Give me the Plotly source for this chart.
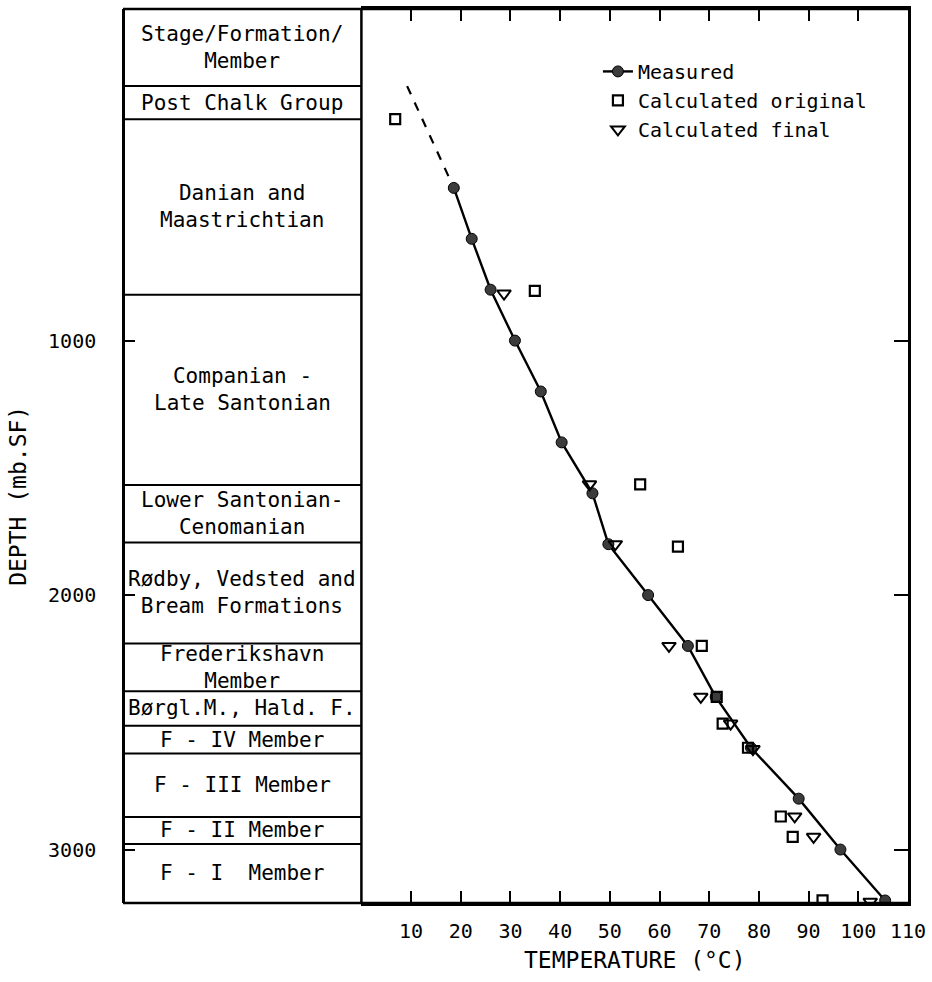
import plotly.graph_objects as go

# Measured borehole temperatures (depth in m below surface, temperature in degC)
meas_depth = [400, 600, 800, 1000, 1200, 1400, 1600, 1800, 2000, 2200, 2400, 2600, 2800, 3000, 3200]
meas_temp = [18.6, 22.2, 26.0, 30.9, 36.1, 40.3, 46.5, 49.7, 57.7, 65.7, 71.3, 78.4, 88.0, 96.4, 105.4]

# Upward extrapolation of the measured gradient
extrap_depth = [0, 400]
extrap_temp = [9.2, 18.6]

# Calculated temperatures, original model
orig_depth = [130, 805, 1565, 1810, 2200, 2400, 2505, 2600, 2870, 2950, 3200]
orig_temp = [6.8, 34.9, 56.1, 63.7, 68.5, 71.5, 72.7, 77.8, 84.4, 86.8, 92.8]

# Calculated temperatures, final model
final_depth = [815, 1565, 1800, 2200, 2400, 2505, 2605, 2870, 2950, 3205]
final_temp = [28.7, 45.9, 51.1, 61.9, 68.3, 74.3, 78.8, 87.2, 91.0, 102.4]

# Stratigraphic column
unit_names = [
    "Post Chalk Group",
    "Danian and<br>Maastrichtian",
    "Companian -<br>Late Santonian",
    "Lower Santonian-<br>Cenomanian",
    "Rødby, Vedsted and<br>Bream Formations",
    "Frederikshavn<br>Member",
    "Børgl.M., Hald. F.",
    "F - IV Member",
    "F - III Member",
    "F - II Member",
    "F - I  Member",
]
unit_tops = [0, 130, 820, 1567, 1793, 2190, 2378, 2513, 2623, 2872, 2978]
header_text = "Stage/Formation/<br>Member"

depth_top = -303
depth_bottom = 3210
depth_ticks = [1000, 2000, 3000]
temp_ticks = [10, 20, 30, 40, 50, 60, 70, 80, 90, 100, 110]

FONT = "DejaVu Sans Mono"
INK = "black"
COL_SPLIT = 0.3037  # paper x where the column ends and the plot begins

fig = go.Figure()

fig.add_trace(go.Scatter(
    x=extrap_temp, y=extrap_depth, mode="lines",
    line=dict(color=INK, width=2.2, dash="dash"),
    showlegend=False, hoverinfo="skip",
))
fig.add_trace(go.Scatter(
    x=meas_temp, y=meas_depth, mode="lines+markers", name="Measured",
    line=dict(color=INK, width=2.4),
    marker=dict(symbol="circle", size=11, color="#3c3c3c", line=dict(color=INK, width=1)),
))
fig.add_trace(go.Scatter(
    x=orig_temp, y=orig_depth, mode="markers", name="Calculated original",
    marker=dict(symbol="square-open", size=10, color=INK, line=dict(width=2.2)),
))
fig.add_trace(go.Scatter(
    x=final_temp, y=final_depth, mode="markers", name="Calculated final",
    marker=dict(symbol="triangle-down-open", size=12, color=INK, line=dict(width=2)),
))

shapes = []
# horizontal boundaries of the stratigraphic column
for top in unit_tops:
    shapes.append(dict(type="line", xref="paper", yref="y", x0=0, x1=COL_SPLIT,
                       y0=top, y1=top, line=dict(color=INK, width=2)))
# outer frame and column separator
shapes.append(dict(type="line", xref="paper", yref="paper", x0=0, x1=1, y0=1, y1=1,
                   line=dict(color=INK, width=2.5)))
shapes.append(dict(type="line", xref="paper", yref="paper", x0=0, x1=1, y0=0, y1=0,
                   line=dict(color=INK, width=2.5)))
shapes.append(dict(type="line", xref="paper", yref="paper", x0=COL_SPLIT, x1=COL_SPLIT,
                   y0=0, y1=1, line=dict(color=INK, width=2.5)))
fig.update_layout(shapes=shapes)

annotations = []
col_mid = COL_SPLIT / 2
bounds = unit_tops + [depth_bottom]
annotations.append(dict(xref="paper", yref="y", x=col_mid, y=(depth_top + unit_tops[0]) / 2,
                        xanchor="center", yanchor="middle",
                        text=header_text, showarrow=False,
                        font=dict(family=FONT, size=21, color=INK)))
for i, name in enumerate(unit_names):
    annotations.append(dict(xref="paper", yref="y", x=col_mid, y=(bounds[i] + bounds[i + 1]) / 2,
                            xanchor="center", yanchor="middle",
                            text=name, showarrow=False,
                            font=dict(family=FONT, size=21, color=INK)))
annotations.append(dict(xref="paper", yref="paper", x=(COL_SPLIT + 1) / 2, y=-0.064,
                        xanchor="center", yanchor="middle", text="TEMPERATURE (°C)", showarrow=False,
                        font=dict(family=FONT, size=23, color=INK)))
annotations.append(dict(xref="paper", yref="paper", x=-0.133, y=0.455, textangle=-90,
                        xanchor="center", yanchor="middle", text="DEPTH (mb.SF)", showarrow=False,
                        font=dict(family=FONT, size=23, color=INK)))
fig.update_layout(annotations=annotations)

fig.update_layout(
    width=932, height=982,
    margin=dict(l=123, r=22, t=6, b=79, pad=0),
    paper_bgcolor="white", plot_bgcolor="white",
    font=dict(family=FONT, size=20, color=INK),
    xaxis=dict(
        domain=[COL_SPLIT, 1], range=[0, 110], tickvals=temp_ticks,
        ticks="inside", ticklen=12, tickwidth=2, tickcolor=INK,
        showline=True, linecolor=INK, linewidth=2.5, mirror="ticks",
        showgrid=False, zeroline=False, ticklabelstandoff=8,
        tickfont=dict(family=FONT, size=20, color=INK),
    ),
    yaxis=dict(
        anchor="free", position=0, range=[depth_bottom, depth_top], tickvals=depth_ticks,
        ticks="inside", ticklen=10, tickwidth=2, tickcolor=INK,
        showline=True, linecolor=INK, linewidth=2.5,
        showgrid=False, zeroline=False, ticklabelstandoff=22,
        tickfont=dict(family=FONT, size=20, color=INK),
    ),
    yaxis2=dict(
        overlaying="y", anchor="x", side="right", range=[depth_bottom, depth_top],
        tickvals=depth_ticks, ticks="inside", ticklen=14, tickwidth=2, tickcolor=INK,
        showticklabels=False, showline=True, linecolor=INK, linewidth=2.5,
        showgrid=False, zeroline=False,
    ),
    legend=dict(
        x=0.605, y=0.952, xanchor="left", yanchor="top",
        bgcolor="rgba(0,0,0,0)", borderwidth=0,
        font=dict(family=FONT, size=20, color=INK),
        tracegroupgap=0, itemwidth=30,
    ),
    showlegend=True,
)

# a hidden trace keeps the right-hand axis active
fig.add_trace(go.Scatter(x=[None], y=[None], yaxis="y2", showlegend=False, hoverinfo="skip"))

fig.write_html("out.html")
